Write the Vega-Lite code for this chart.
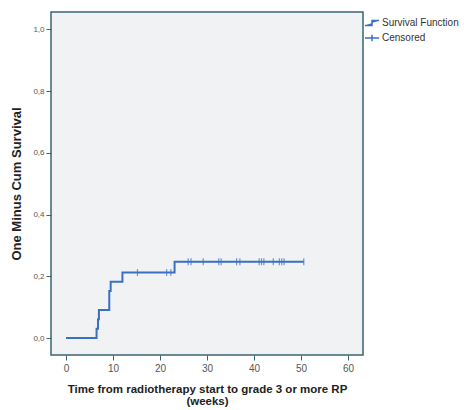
{
  "$schema": "https://vega.github.io/schema/vega-lite/v6.json",
  "autosize": "none",
  "width": 312,
  "height": 343,
  "padding": {"left": 51, "top": 12, "right": 101, "bottom": 55},
  "background": "white",
  "config": {
    "view": {"fill": "#f0f2f4", "stroke": "#3a6473", "strokeWidth": 1.5},
    "font": "Liberation Sans Narrow, Liberation Sans, sans-serif"
  },
  "data": {
    "values": [
      {"t": 0, "p": 0, "kind": "Survival Function"},
      {"t": 6.5, "p": 0.03, "kind": "Survival Function"},
      {"t": 6.8, "p": 0.061, "kind": "Survival Function"},
      {"t": 7.0, "p": 0.091, "kind": "Survival Function"},
      {"t": 9.2, "p": 0.152, "kind": "Survival Function"},
      {"t": 9.5, "p": 0.182, "kind": "Survival Function"},
      {"t": 12.0, "p": 0.212, "kind": "Survival Function"},
      {"t": 23.1, "p": 0.247, "kind": "Survival Function"},
      {"t": 50.6, "p": 0.247, "kind": "Survival Function"},
      {"t": 15.2, "p": 0.212, "kind": "Censored"},
      {"t": 21.4, "p": 0.212, "kind": "Censored"},
      {"t": 22.3, "p": 0.212, "kind": "Censored"},
      {"t": 26.0, "p": 0.247, "kind": "Censored"},
      {"t": 26.6, "p": 0.247, "kind": "Censored"},
      {"t": 29.2, "p": 0.247, "kind": "Censored"},
      {"t": 32.5, "p": 0.247, "kind": "Censored"},
      {"t": 33.0, "p": 0.247, "kind": "Censored"},
      {"t": 36.3, "p": 0.247, "kind": "Censored"},
      {"t": 37.0, "p": 0.247, "kind": "Censored"},
      {"t": 41.1, "p": 0.247, "kind": "Censored"},
      {"t": 41.6, "p": 0.247, "kind": "Censored"},
      {"t": 42.1, "p": 0.247, "kind": "Censored"},
      {"t": 44.1, "p": 0.247, "kind": "Censored"},
      {"t": 45.4, "p": 0.247, "kind": "Censored"},
      {"t": 45.9, "p": 0.247, "kind": "Censored"},
      {"t": 46.4, "p": 0.247, "kind": "Censored"},
      {"t": 50.6, "p": 0.247, "kind": "Censored"}
    ]
  },
  "encoding": {
    "x": {
      "field": "t", "type": "quantitative",
      "scale": {"domain": [-3.2, 63.2], "nice": false, "zero": false},
      "axis": {
        "values": [0, 10, 20, 30, 40, 50, 60],
        "title": ["Time from radiotherapy start to grade 3 or more RP", "(weeks)"],
        "titleFont": "Liberation Sans, sans-serif",
        "titleFontSize": 11.5, "titleFontWeight": "bold", "titleColor": "#222",
        "titlePadding": 10, "titleLineHeight": 12,
        "labelFontSize": 10, "labelColor": "#555",
        "tickColor": "#3a6473", "tickSize": 5, "domain": false, "grid": false,
        "labelPadding": 3
      }
    },
    "y": {
      "field": "p", "type": "quantitative",
      "scale": {"domain": [-0.055, 1.056], "nice": false, "zero": false},
      "axis": {
        "values": [0, 0.2, 0.4, 0.6, 0.8, 1.0],
        "format": ".1f",
        "labelExpr": "replace(datum.label, '.', ',')",
        "title": "One Minus Cum Survival",
        "titleFont": "Liberation Sans, sans-serif",
        "titleFontSize": 13, "titleFontWeight": "bold", "titleColor": "#222",
        "titlePadding": 9,
        "labelFontSize": 8, "labelColor": "#555",
        "tickColor": "#3a6473", "tickSize": 5, "domain": false, "grid": false,
        "labelPadding": 2
      }
    },
    "color": {
      "field": "kind", "type": "nominal",
      "scale": {"domain": ["Survival Function", "Censored"], "range": ["#3b6fc2", "#3b6fc2"]},
      "legend": {
        "title": null,
        "orient": "none", "legendX": 313, "legendY": 3,
        "labelFontSize": 10, "labelColor": "#333",
        "symbolStrokeWidth": 1.5, "symbolSize": 200, "rowPadding": 1,
        "labelOffset": 2,
        "encode": {
          "symbols": {
            "update": {
              "shape": {"signal": "datum.value === 'Censored' ? 'M-1,0H1M0,-0.45V0.45' : 'M-1,0.35H0V-0.35H1'"},
              "fill": {"value": "transparent"},
              "stroke": {"value": "#3b6fc2"},
              "strokeWidth": {"value": 1.5}
            }
          }
        }
      }
    }
  },
  "layer": [
    {
      "transform": [{"filter": "datum.kind === 'Survival Function'"}],
      "mark": {"type": "line", "interpolate": "step-after", "strokeWidth": 2}
    },
    {
      "transform": [{"filter": "datum.kind === 'Censored'"}],
      "mark": {"type": "tick", "orient": "vertical", "size": 7, "thickness": 1.2}
    }
  ]
}
